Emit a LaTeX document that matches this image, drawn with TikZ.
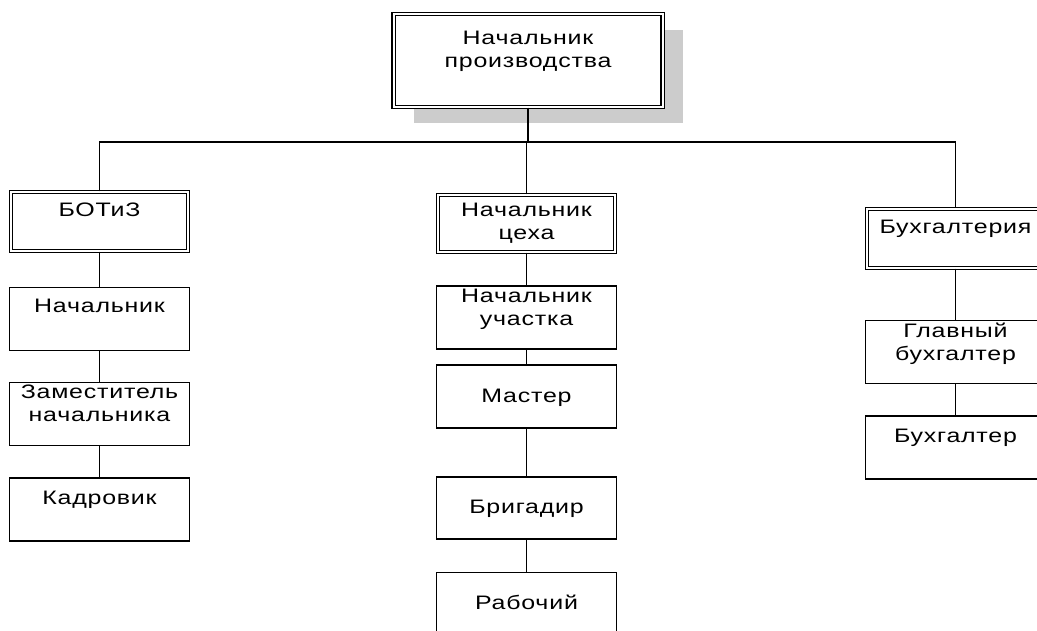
\documentclass[tikz,border=0pt]{standalone}
\usepackage{fontspec}
\setmainfont{Liberation Sans}[FakeStretch=1.28, LetterSpace=4]
\usetikzlibrary{shadows}
\newcommand{\orgtext}[4]{\parbox[c][#2pt][t]{#1pt}{\centering\vspace*{#3pt}#4}}

\begin{document}
\begin{tikzpicture}[x=1pt,y=-1pt,
	every node/.style={inner sep=0pt, font=\fontsize{19.5}{23}\selectfont},
	unit/.style={draw, line width=1.4pt, fill=white},
	dept/.style={draw, line width=1.1pt, double, double distance=2pt, fill=white},
	chief/.style={dept, drop shadow={shadow xshift=20pt, shadow yshift=-16pt, fill=gray!40, opacity=1}},
	link/.style={line width=1.8pt}]
	\useasboundingbox (0,0) rectangle (1037,630);
	
	\draw (528,60.5) node[chief] (nach) {\orgtext{269}{93}{17}{Начальник\\производства}}
	(99.5,221.5) node[dept] (botiz) {\orgtext{177}{59}{11}{БОТиЗ}}
	(99.5,319) node[unit] (bnach) {\orgtext{180}{63}{12}{Начальник}}
	(99.5,414) node[unit] (zam) {\orgtext{180}{63}{2}{Заместитель\\начальника}}
	(99.5,509.5) node[unit] (kadr) {\orgtext{180}{63}{13}{Кадровик}}
	(526.5,223.5) node[dept] (tseh) {\orgtext{177}{57}{8}{Начальник\\цеха}}
	(526.5,317.5) node[unit] (uch) {\orgtext{180}{63}{3}{Начальник\\участка}}
	(526.5,396.5) node[unit] (master) {\orgtext{180}{63}{24}{Мастер}}
	(526.5,508) node[unit] (brig) {\orgtext{180}{62}{23}{Бригадир}}
	(526.5,604) node[unit] (rab) {\orgtext{180}{63}{23}{Рабочий}}
	(955.5,238.5) node[dept] (buh) {\orgtext{177}{59}{11}{Бухгалтерия}}
	(955.5,352) node[unit] (glav) {\orgtext{180}{63}{3}{Главный\\бухгалтер}}
	(955.5,447.5) node[unit] (buhg) {\orgtext{180}{63}{13}{Бухгалтер}};
	
	% shared bus under the head
	\coordinate (bus) at (527,142);
	\draw[link] (nach.south) -- (nach.south |- bus);
	\draw[link] (botiz.north) |- (bus) -| (buh.north);
	\draw[link] (tseh.north) -- (tseh.north |- bus);
	
	\draw[link] (botiz.south) -- (bnach.north);
	\draw[link] (bnach.south) -- (zam.north);
	\draw[link] (zam.south) -- (kadr.north);
	
	\draw[link] (tseh.south) -- (uch.north);
	\draw[link] (uch.south) -- (master.north);
	\draw[link] (master.south) -- (brig.north);
	\draw[link] (brig.south) -- (rab.north);
	
	\draw[link] (buh.south) -- (glav.north);
	\draw[link] (glav.south) -- (buhg.north);
\end{tikzpicture}
\end{document}
